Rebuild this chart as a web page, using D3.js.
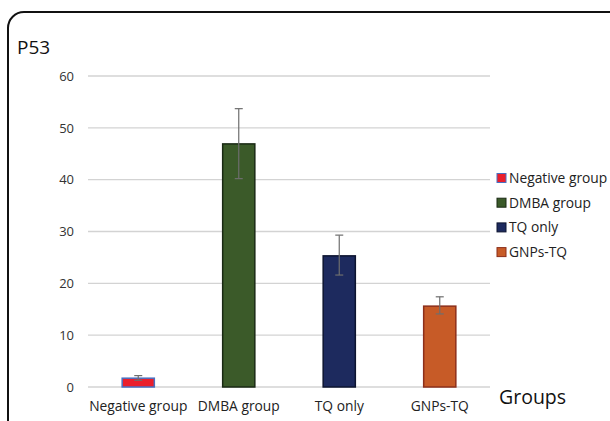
<!DOCTYPE html>
<html>
<head>
<meta charset="utf-8">
<script src="https://cdn.jsdelivr.net/npm/d3@7"></script>
<style>
  body { margin: 0; background: #fff; }
  text { font-family: "Open Sans", "Noto Sans", sans-serif; }
</style>
</head>
<body>
<div id="chart"></div>
<script>
// data
const groups = ["Negative group", "DMBA group", "TQ only", "GNPs-TQ"];
const means = [1.7, 46.9, 25.3, 15.6];
const errHigh = [2.2, 53.7, 29.3, 17.4];
const errLow = [1.3, 40.2, 21.6, 14.1];
const yTicks = [0, 10, 20, 30, 40, 50, 60];
const fills = ["#ea1f2c", "#3b5a29", "#1d2a5e", "#c75b27"];
const strokes = ["#4a6fc0", "#1a2a14", "#0d1430", "#8c2f1a"];

const W = 610, H = 421;
const margin = {left: 88, right: 120, top: 76, bottom: 34};

const svg = d3.select("#chart").append("svg")
    .attr("width", W)
    .attr("height", H);

// rounded frame
svg.append("rect")
    .attr("x", 8).attr("y", 12)
    .attr("width", 620).attr("height", 430)
    .attr("rx", 16)
    .attr("fill", "none")
    .attr("stroke", "#111")
    .attr("stroke-width", 2);

svg.append("text")
    .attr("x", 17).attr("y", 54)
    .style("font-size", "19px")
    .attr("fill", "#111")
    .text("P53");

const x = d3.scaleBand()
  .domain(groups)
  .range([margin.left, 490])
  .paddingInner(0.68)
  .paddingOuter(0.34);

const y = d3.scaleLinear()
  .domain([0, 60])
  .range([387, 76]);

// grid
svg.append("g")
  .selectAll("line")
  .data(yTicks)
  .join("line")
    .attr("x1", margin.left).attr("x2", 490)
    .attr("y1", d => y(d)).attr("y2", d => y(d))
    .attr("stroke", "#d3d3d3")
    .attr("stroke-width", 1.3);

const yAxis = svg.append("g")
  .attr("transform", `translate(${margin.left},0)`)
  .call(d3.axisLeft(y).tickValues(yTicks).tickSize(0).tickPadding(14));
yAxis.select(".domain").remove();
yAxis.selectAll("text")
  .style("font-size", "13px")
  .style("font-family", "'Open Sans', sans-serif")
  .attr("fill", "#333");

const xAxis = svg.append("g")
  .attr("transform", `translate(0,387)`)
  .call(d3.axisBottom(x).tickSize(0).tickPadding(14));
xAxis.select(".domain").remove();
xAxis.selectAll("text")
  .style("font-size", "13.8px")
  .style("font-family", "'Open Sans', sans-serif")
  .attr("fill", "#222");

// bars
svg.append("g")
  .selectAll("rect")
  .data(groups)
  .join("rect")
    .attr("x", d => x(d))
    .attr("y", (d, i) => y(means[i]))
    .attr("width", x.bandwidth())
    .attr("height", (d, i) => y(0) - y(means[i]))
    .attr("fill", (d, i) => fills[i])
    .attr("stroke", (d, i) => strokes[i])
    .attr("stroke-width", 1.5);

// error bars
const eb = svg.append("g")
  .attr("stroke", "#6e6e6e")
  .attr("stroke-width", 1.2);
groups.forEach(function(g, i) {
  const cx = x(g) + x.bandwidth() / 2;
  eb.append("line")
    .attr("x1", cx).attr("x2", cx)
    .attr("y1", y(errHigh[i])).attr("y2", y(errLow[i]));
  [errHigh[i], errLow[i]].forEach(v => {
    eb.append("line")
      .attr("x1", cx - 4).attr("x2", cx + 4)
      .attr("y1", y(v)).attr("y2", y(v));
  });
});

svg.append("text")
    .attr("x", 499).attr("y", 404)
    .style("font-size", "19.5px")
    .attr("fill", "#111")
    .text("Groups");

// legend
const legend = svg.append("g")
  .selectAll("g")
  .data(groups)
  .join("g")
    .attr("transform", (d, i) => `translate(497,${178 + i * 24.7})`);
legend.append("rect")
    .attr("x", 0).attr("y", -4.5)
    .attr("width", 9).attr("height", 9)
    .attr("fill", (d, i) => fills[i])
    .attr("stroke", (d, i) => strokes[i])
    .attr("stroke-width", 1);
legend.append("text")
    .attr("x", 12).attr("y", 5)
    .style("font-size", "13.8px")
    .attr("fill", "#222")
    .text(d => d);
</script>
</body>
</html>
